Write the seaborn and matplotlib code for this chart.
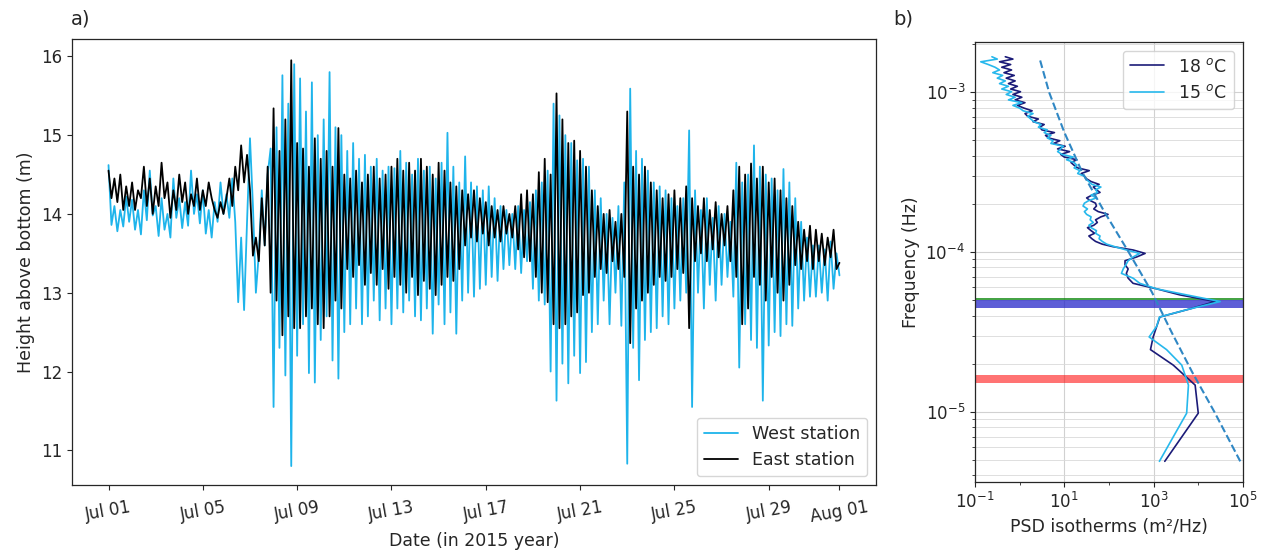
import numpy as np
import pandas as pd
import matplotlib
matplotlib.use("Agg")
import matplotlib.pyplot as plt
import matplotlib.dates as mdates
import matplotlib.ticker as mticker
import seaborn as sns

# ---------------- isotherm heights, 3-hourly, 1 Jul 2015 00:00 -> 1 Aug 2015 00:00
west_height = [
    14.62, 13.86, 14.10, 13.78, 14.05, 13.84, 14.22, 13.90,
    14.18, 13.80, 14.05, 13.74, 14.30, 13.92, 14.55, 13.98,
    14.10, 13.72, 14.20, 13.80, 14.00, 13.70, 14.45, 13.95,
    14.20, 13.82, 14.15, 13.85, 14.55, 14.00, 14.25, 13.88,
    14.30, 13.75, 14.05, 13.70, 14.15, 13.90, 14.40, 14.00,
    14.25, 13.95, 14.45, 13.90, 12.88, 13.70, 12.78, 13.90,
    14.96, 14.10, 13.00, 13.50, 14.30, 13.60, 14.50, 14.83,
    11.55, 15.10, 12.30, 15.76, 11.95, 15.40, 10.80, 15.90,
    12.20, 15.72, 12.60, 15.30, 11.98, 15.67, 11.86, 15.00,
    12.40, 15.20, 12.70, 15.80, 12.14, 15.10, 11.91, 15.00,
    12.50, 14.80, 12.60, 14.90, 12.80, 14.70, 12.60, 14.75,
    12.70, 14.60, 12.90, 14.70, 12.65, 14.55, 12.80, 14.60,
    12.60, 14.58, 12.80, 14.80, 12.75, 14.65, 12.90, 14.50,
    12.70, 14.70, 12.65, 14.55, 12.80, 14.60, 12.48, 14.45,
    12.85, 14.65, 12.60, 15.03, 12.75, 14.60, 12.48, 14.40,
    12.90, 14.73, 13.00, 14.40, 12.95, 14.35, 13.05, 14.30,
    13.10, 14.35, 13.20, 14.20, 13.15, 14.10, 13.30, 14.05,
    13.35, 14.00, 13.30, 14.10, 13.25, 14.05, 13.40, 14.15,
    13.05, 14.30, 12.90, 14.40, 12.85, 14.55, 12.00, 15.40,
    11.63, 15.25, 12.10, 15.00, 11.85, 14.90, 12.20, 14.68,
    11.98, 14.70, 12.12, 14.60, 12.50, 14.30, 12.60, 14.20,
    12.90, 14.00, 12.60, 13.95, 13.00, 14.10, 12.58, 14.40,
    10.83, 15.59, 12.30, 14.80, 11.89, 14.70, 12.40, 14.55,
    12.50, 14.40, 12.55, 14.35, 12.70, 14.30, 12.60, 14.20,
    12.80, 14.10, 12.90, 14.20, 13.00, 15.06, 11.55, 14.30,
    13.00, 14.05, 12.80, 14.20, 13.10, 13.95, 12.90, 14.10,
    13.10, 14.00, 13.20, 13.90, 12.95, 14.65, 12.05, 14.40,
    12.60, 14.50, 12.40, 14.87, 12.30, 14.60, 11.63, 14.50,
    12.33, 14.45, 12.50, 14.30, 12.45, 14.57, 12.60, 14.40,
    12.58, 14.20, 12.80, 13.90, 12.90, 13.70, 12.95, 13.60,
    12.95, 13.60, 13.00, 13.55, 12.90, 13.65, 13.05, 13.50,
    13.22,
]
east_height = [
    14.55, 14.20, 14.45, 14.15, 14.50, 14.05, 14.35, 14.10,
    14.40, 14.05, 14.30, 14.20, 14.60, 14.10, 14.45, 14.00,
    14.35, 14.10, 14.65, 14.20, 14.40, 13.95, 14.30, 14.05,
    14.50, 14.15, 14.40, 14.00, 14.25, 14.10, 14.45, 14.05,
    14.30, 14.10, 14.40, 14.20, 14.05, 13.95, 14.15, 14.00,
    14.20, 14.45, 14.10, 14.60, 14.30, 14.87, 14.40, 14.75,
    14.30, 13.47, 13.70, 13.40, 14.20, 13.60, 14.60, 13.00,
    15.34, 12.90, 14.80, 12.46, 15.20, 12.70, 15.95, 12.55,
    14.90, 12.55, 14.83, 12.70, 14.60, 12.80, 14.96, 12.60,
    14.70, 12.55, 14.80, 12.70, 14.60, 12.90, 15.09, 12.80,
    14.50, 13.30, 14.45, 13.20, 14.55, 13.35, 14.40, 13.10,
    14.50, 13.25, 14.60, 13.10, 14.45, 13.30, 14.50, 13.05,
    14.60, 13.20, 14.70, 13.10, 14.55, 13.00, 14.65, 13.20,
    14.55, 12.97, 14.70, 13.15, 14.60, 13.05, 14.50, 12.97,
    14.65, 13.10, 14.55, 13.20, 14.40, 13.15, 14.35, 13.30,
    14.30, 13.60, 14.25, 13.70, 14.30, 13.65, 14.20, 13.75,
    14.15, 13.60, 14.10, 13.70, 14.05, 13.65, 14.10, 13.75,
    14.00, 13.70, 14.10, 13.55, 14.25, 13.45, 14.30, 13.40,
    14.25, 13.20, 14.53, 13.00, 14.70, 12.88, 14.50, 12.60,
    15.53, 12.55, 15.20, 12.60, 14.90, 12.70, 14.93, 12.75,
    14.80, 12.97, 14.60, 13.00, 14.30, 13.20, 14.10, 13.30,
    14.00, 13.25, 14.05, 13.40, 13.90, 13.30, 14.00, 13.20,
    15.30, 12.36, 14.60, 12.80, 14.50, 12.90, 14.60, 13.00,
    14.40, 13.10, 14.30, 13.20, 14.20, 13.15, 14.25, 13.20,
    14.30, 13.30, 14.20, 13.25, 14.35, 12.55, 14.20, 13.40,
    14.10, 13.50, 14.20, 13.40, 14.05, 13.55, 14.15, 13.45,
    14.00, 13.60, 14.10, 13.40, 14.30, 13.20, 14.60, 12.60,
    14.50, 12.80, 14.64, 13.20, 14.45, 13.10, 14.60, 12.90,
    14.40, 13.20, 14.45, 13.00, 14.30, 12.90, 14.20, 13.10,
    14.10, 13.35, 13.90, 13.30, 13.80, 13.40, 13.85, 13.30,
    13.80, 13.40, 13.75, 13.35, 13.70, 13.45, 13.80, 13.30,
    13.38,
]
date_ticks = ["2015-07-01", "2015-07-05", "2015-07-09", "2015-07-13", "2015-07-17",
              "2015-07-21", "2015-07-25", "2015-07-29", "2015-08-01"]

# ---------------- isotherm displacement spectra
freq_hz = [
    4.90e-6, 9.80e-6, 1.47e-5, 1.96e-5, 2.45e-5, 2.94e-5, 3.43e-5, 3.92e-5,
    4.41e-5, 4.90e-5, 5.39e-5, 5.88e-5, 6.37e-5, 6.86e-5, 7.35e-5, 7.84e-5,
    8.33e-5, 8.82e-5, 9.31e-5, 9.80e-5, 1.03e-4, 1.08e-4,
    1.120e-4, 1.165e-4, 1.21e-4, 1.26e-4, 1.31e-4, 1.36e-4, 1.42e-4, 1.47e-4,
    1.53e-4, 1.59e-4, 1.66e-4, 1.72e-4, 1.79e-4, 1.86e-4, 1.94e-4, 2.02e-4,
    2.10e-4, 2.18e-4, 2.27e-4, 2.36e-4, 2.45e-4, 2.55e-4, 2.65e-4, 2.76e-4,
    2.87e-4, 2.98e-4, 3.10e-4, 3.23e-4, 3.36e-4, 3.49e-4, 3.63e-4, 3.78e-4,
    3.93e-4, 4.08e-4, 4.25e-4, 4.42e-4, 4.59e-4, 4.78e-4, 4.97e-4, 5.17e-4,
    5.37e-4, 5.59e-4, 5.81e-4, 6.04e-4, 6.28e-4, 6.54e-4, 6.80e-4, 7.07e-4,
    7.35e-4, 7.65e-4, 7.95e-4, 8.27e-4, 8.60e-4, 8.95e-4, 9.30e-4, 9.68e-4,
    1.007e-3, 1.047e-3, 1.089e-3, 1.132e-3, 1.177e-3, 1.225e-3, 1.274e-3,
    1.325e-3, 1.378e-3, 1.433e-3, 1.490e-3, 1.550e-3, 1.612e-3, 1.667e-3,
]
# log10 of PSD (m^2/Hz)
log_psd_18 = [
    3.25, 4.00, 3.93, 3.44, 2.93, 2.99, 3.07, 3.14, 3.82, 4.38, 3.59, 3.07,
    2.54, 2.43, 2.39, 2.43, 2.36, 2.36, 2.62, 2.81, 2.54, 2.09,
    1.85, 1.70, 1.62, 1.55, 1.68, 1.60, 1.52, 1.66, 1.74, 1.70,
    1.82, 1.98, 1.76, 1.66, 1.72, 1.70, 1.58, 1.50, 1.62, 1.80,
    1.72, 1.65, 1.78, 1.60, 1.50, 1.45, 1.38, 1.56, 1.30, 1.22,
    1.15, 1.28, 1.00, 0.92, 1.12, 0.85, 1.02, 0.76, 0.90, 0.65,
    0.58, 0.78, 0.50, 0.45, 0.55, 0.30, 0.42, 0.18, 0.12, 0.28,
    0.10, -0.05, 0.12, -0.10, 0.05, -0.15, 0.02, -0.20, -0.05, -0.25,
    -0.10, -0.30, -0.12, -0.35, -0.18, -0.40, -0.20, -0.45, -0.15, -0.32,
]
log_psd_15 = [
    3.13, 3.74, 3.78, 3.63, 3.29, 2.90, 3.07, 3.13, 3.82, 4.49, 3.74, 3.07,
    2.69, 2.54, 2.28, 2.32, 2.38, 2.43, 2.54, 2.69, 2.39, 2.13,
    1.95, 1.85, 1.78, 1.80, 1.70, 1.72, 1.60, 1.55, 1.65, 1.58,
    1.60, 1.50, 1.45, 1.52, 1.42, 1.45, 1.55, 1.72, 1.60, 1.75,
    1.70, 1.82, 1.62, 1.55, 1.48, 1.45, 1.30, 1.35, 1.22, 1.28,
    1.22, 1.05, 1.20, 0.95, 0.85, 0.92, 0.98, 0.70, 0.75, 0.62,
    0.70, 0.55, 0.62, 0.42, 0.48, 0.32, 0.25, 0.18, 0.30, 0.08,
    0.00, -0.15, 0.05, -0.25, -0.10, -0.30, -0.18, -0.40, -0.25, -0.45,
    -0.32, -0.50, -0.38, -0.60, -0.45, -0.55, -0.70, -0.87, -0.50, -0.62,
]
# reference (model) spectrum
model_freq_hz = [1.58e-3, 1.0e-3, 5.62e-4, 3.16e-4, 1.78e-4, 1.0e-4,
                 5.62e-5, 3.16e-5, 1.78e-5, 1.0e-5, 4.9e-6]
model_log_psd = [0.46, 0.66, 1.00, 1.40, 1.90, 2.44, 2.96, 3.40, 3.86, 4.36, 4.94]

# frequency bands
seiche_band = (4.45e-5, 5.0e-5)
seiche_line = 5.08e-5
inertial_band = (1.52e-5, 1.70e-5)

WEST_C = "#1eb4eb"
EAST_C = "black"
C18 = "#1b1b78"
C15 = "#27b8ec"
MODEL_C = "#2f87c4"

sns.set_style("ticks")
plt.rcParams["font.family"] = ["DejaVu Sans"]
plt.rcParams["font.size"] = 12
plt.rcParams["mathtext.fontset"] = "dejavusans"

fig = plt.figure(figsize=(12.67, 5.51), dpi=100)
ax_a = fig.add_axes([0.0568, 0.1198, 0.6346, 0.8094])
ax_b = fig.add_axes([0.7695, 0.125, 0.2115, 0.799])

# ---------------- panel a
times = pd.date_range("2015-07-01", periods=len(west_height), freq="3h")
df = pd.DataFrame({"time": times, "west": west_height, "east": east_height})
sns.lineplot(data=df, x="time", y="west", color=WEST_C, lw=1.3,
             label="West station", ax=ax_a)
sns.lineplot(data=df, x="time", y="east", color=EAST_C, lw=1.3,
             label="East station", ax=ax_a)
ax_a.set_ylim(10.56, 16.22)
pad = pd.Timedelta(days=1.55)
ax_a.set_xlim(times[0] - pad, times[-1] + pad)
ax_a.set_xticks(pd.to_datetime(date_ticks))
ax_a.xaxis.set_major_formatter(mdates.DateFormatter("%b %d"))
ax_a.set_yticks([11, 12, 13, 14, 15, 16])
ax_a.tick_params(axis="x", labelsize=12, pad=6)
ax_a.tick_params(axis="y", labelsize=12)
plt.setp(ax_a.get_xticklabels(), rotation=10)
ax_a.set_xlabel("Date (in 2015 year)", fontsize=12.5)
ax_a.set_ylabel("Height above bottom (m)", fontsize=12.5)
ax_a.legend(loc="lower right", fontsize=12.5, frameon=True)
for s in ax_a.spines.values():
    s.set_linewidth(0.9)

# ---------------- panel b
ax_b.set_xscale("log")
ax_b.set_yscale("log")
ax_b.axhspan(*inertial_band, color="red", alpha=0.55, lw=0, zorder=1)
ax_b.axhspan(*seiche_band, color="#2020c8", alpha=0.72, lw=0, zorder=1)
ax_b.axhline(seiche_line, color="green", lw=1.3, alpha=0.8, zorder=1)

spec = pd.DataFrame({"freq": freq_hz,
                     "p18": 10.0 ** np.array(log_psd_18),
                     "p15": 10.0 ** np.array(log_psd_15)})
model = pd.DataFrame({"freq": model_freq_hz,
                      "p": 10.0 ** np.array(model_log_psd)})
sns.lineplot(data=spec, x="p18", y="freq", orient="y", sort=False,
             color=C18, lw=1.2, label="18 $^o$C", ax=ax_b, zorder=3)
sns.lineplot(data=spec, x="p15", y="freq", orient="y", sort=False,
             color=C15, lw=1.2, label="15 $^o$C", ax=ax_b, zorder=3)
sns.lineplot(data=model, x="p", y="freq", orient="y", sort=False,
             color=MODEL_C, lw=1.5, linestyle="--", ax=ax_b, zorder=3)

ax_b.set_xlim(1e-1, 1e5)
ax_b.set_ylim(10 ** -5.44, 10 ** -2.685)
ax_b.set_xticks([1e-1, 1e1, 1e3, 1e5])
ax_b.xaxis.set_minor_locator(mticker.FixedLocator([1e0, 1e2, 1e4]))
ax_b.xaxis.set_minor_formatter(mticker.NullFormatter())
ax_b.yaxis.set_major_locator(mticker.LogLocator(base=10, numticks=10))
ax_b.yaxis.set_minor_locator(mticker.LogLocator(base=10, subs=np.arange(2, 10), numticks=12))
ax_b.yaxis.set_minor_formatter(mticker.NullFormatter())
ax_b.set_axisbelow(True)
ax_b.grid(True, which="major", color="0.82", lw=0.8)
ax_b.grid(True, which="minor", axis="y", color="0.85", lw=0.6)
ax_b.set_xlabel("PSD isotherms (m\u00b2/Hz)", fontsize=12.5)
ax_b.set_ylabel("Frequency (Hz)", fontsize=12.5)
ax_b.tick_params(labelsize=12)
ax_b.legend(loc="upper right", fontsize=12.5, frameon=True)
for s in ax_b.spines.values():
    s.set_linewidth(0.9)

fig.text(0.056, 0.966, "a)", fontsize=14, va="center", ha="left")
fig.text(0.705, 0.966, "b)", fontsize=14, va="center", ha="left")

fig.savefig("out.png", dpi=100)
